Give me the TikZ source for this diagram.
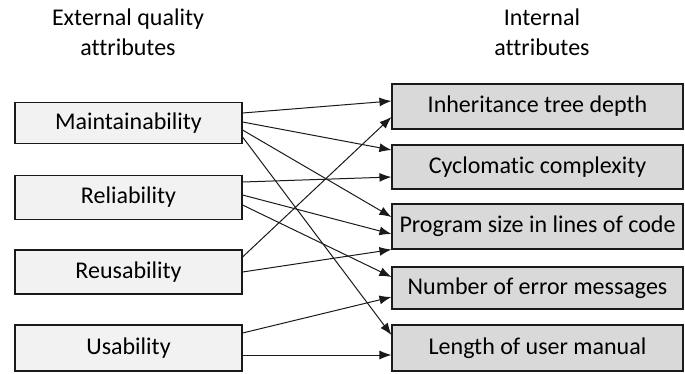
\documentclass[tikz,border=0pt]{standalone}
\usepackage{fontspec}
\setmainfont[Ligatures=NoCommon]{Carlito}
\usetikzlibrary{arrows.meta}
\definecolor{lbox}{HTML}{F2F2F2}
\definecolor{rbox}{HTML}{D9D9D9}
\definecolor{edge}{HTML}{1A1A1A}
\begin{document}
\begin{tikzpicture}[x=1pt,y=-1pt,
  lattr/.style={draw=edge,line width=1.1pt,fill=lbox,minimum width=227pt,inner sep=0pt,font=\fontsize{24}{26}\selectfont},
  rattr/.style={draw=edge,line width=1.1pt,fill=rbox,minimum width=291pt,inner sep=0pt,font=\fontsize{24}{26}\selectfont},
  hdr/.style={align=center,font=\fontsize{24}{30}\selectfont,inner sep=0pt},
  link/.style={draw=edge,line width=1pt,-{Latex[length=12pt,width=9pt]}}]
\useasboundingbox (0,0) rectangle (685,373);
\node[hdr] (h1) at (128,32) {External quality\\attributes};
\node[hdr] (h2) at (542,32) {Internal\\attributes};
\node[lattr,minimum height=41pt] (m) at (128.5,123) {Maintainability};
\node[lattr,minimum height=44pt] (r) at (128.5,197.5) {Reliability};
\node[lattr,minimum height=44pt] (re) at (128.5,272) {Reusability};
\node[lattr,minimum height=46pt] (u) at (128.5,348) {Usability};
\node[rattr,minimum height=45pt] (i) at (537.5,106.5) {Inheritance tree depth};
\node[rattr,minimum height=44pt] (c) at (537.5,167) {Cyclomatic complexity};
\node[rattr,minimum height=45pt] (p) at (537.5,226.5) {Program size in lines of code};
\node[rattr,minimum height=42pt] (n) at (537.5,288) {Number of error messages};
\node[rattr,minimum height=46pt] (l) at (537.5,348) {Length of user manual};
% Maintainability
\draw[link] ([yshift=10pt]m.east) -- ([yshift=5.5pt]i.west);
\draw[link] ([yshift=1pt]m.east) -- ([yshift=17pt]c.west);
\draw[link] ([yshift=-7pt]m.east) -- ([yshift=9.5pt]p.west);
\draw[link] ([yshift=-14pt]m.east) -- ([yshift=13pt]l.west);
% Reliability
\draw[link] ([yshift=15.5pt]r.east) -- ([yshift=-10pt]c.west);
\draw[link] ([yshift=2.5pt]r.east) -- ([yshift=-7.5pt]p.west);
\draw[link] ([yshift=-7.5pt]r.east) -- ([yshift=11pt]n.west);
% Reusability
\draw[link] ([yshift=15pt]re.east) -- ([yshift=-10.5pt]i.west);
\draw[link] (re.east) -- (p.south west);
% Usability
\draw[link] ([yshift=15pt]u.east) -- ([yshift=-9pt]n.west);
\draw[link] ([yshift=-7pt]u.east) -- ([yshift=-7pt]l.west);
\end{tikzpicture}
\end{document}
